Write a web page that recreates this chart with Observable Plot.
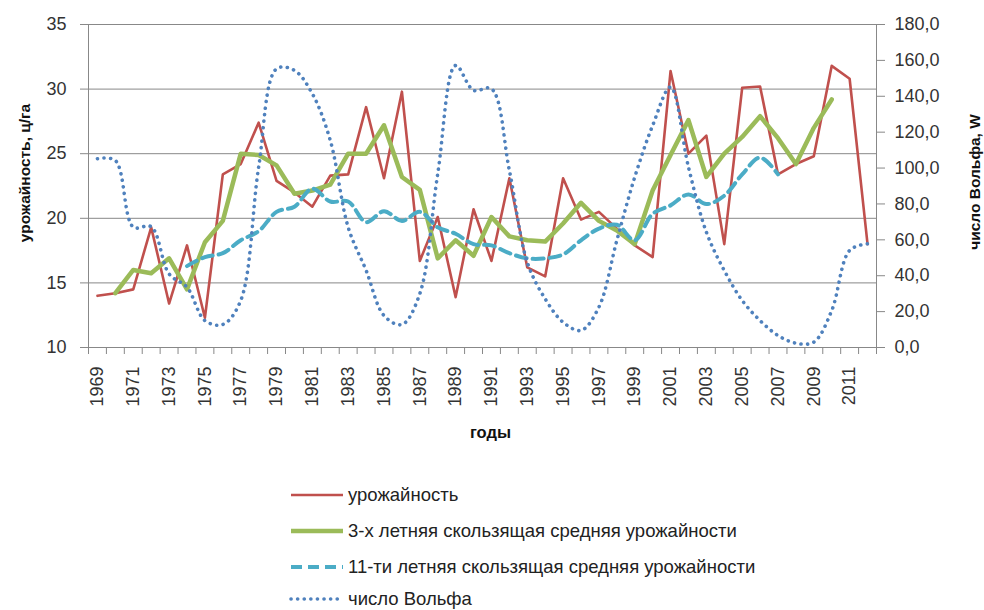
<!DOCTYPE html>
<html><head><meta charset="utf-8">
<script src="https://cdn.jsdelivr.net/npm/d3@7"></script>
<script src="https://cdn.jsdelivr.net/npm/@observablehq/plot@0.6"></script>
<style>
html,body{margin:0;padding:0;background:#fff;}
body{width:984px;height:610px;position:relative;overflow:hidden;font-family:"Liberation Sans",Arial,sans-serif;}
#chart{position:absolute;left:0;top:0;}
#legend{position:absolute;left:289px;top:478px;font-size:18.5px;color:#222;}
.row{position:absolute;left:0;height:22px;white-space:nowrap;display:flex;align-items:center;}
.row svg{margin-right:3px;}
</style></head><body>
<div id="chart"></div>
<div id="legend"></div>
<script>
// ---- data ----
const years = d3.range(1969, 2013);
const yieldValues = [14.0,14.2,14.5,19.3,13.4,17.9,12.3,23.4,24.2,27.4,
  22.9,22.0,20.9,23.3,23.4,28.6,23.1,29.8,16.7,20.1,
  13.9,20.7,16.7,23.1,16.2,15.5,23.1,19.9,20.5,19.2,
  17.9,17.0,31.4,25.0,26.4,18.0,30.1,30.2,23.4,24.2,
  24.8,31.8,30.8,18.0];
const ma3Years = d3.range(1970, 2011);
const ma3Values = [14.2,16.0,15.75,16.9,14.5,18.15,19.8,25.0,24.9,24.1,
  21.9,22.15,22.6,25.0,25.0,27.2,23.2,22.2,16.9,18.3,
  17.1,20.1,18.6,18.3,18.2,19.6,21.2,19.8,19.05,18.0,
  22.15,24.9,27.6,23.2,25.0,26.3,27.9,26.2,24.2,27.0,
  29.2];
const ma11Years = d3.range(1974, 2008);
const ma11Values = [16.3,17.0,17.3,18.3,19.0,20.5,20.9,22.3,21.3,21.3,
  19.7,20.55,19.8,20.5,19.3,18.8,18.0,17.9,17.3,16.9,
  16.9,17.2,18.3,19.2,19.5,18.3,20.35,21.0,21.85,21.1,
  21.75,23.4,24.7,23.4];
const wolfValues = [105.2,104.2,67.1,67.3,41.0,33.6,15.0,12.8,26.2,100.5,
  155.3,154.4,141.4,115.4,67.0,43.0,17.8,12.8,30.0,96.8,
  157.2,143.3,144.2,98.7,47.5,27.1,14.1,9.5,22.5,59.6,
  94.9,123.7,145.1,100.5,64.3,42.9,26.2,15.0,6.7,2.4,
  3.0,20.6,54.1,57.8];
const leftTicks = [10,15,20,25,30,35];
const rightTicks = [0,20,40,60,80,100,120,140,160,180];
const xLabelYears = d3.range(1969, 2012, 2);
const seriesNames = ["урожайность","3-х летняя скользящая средняя урожайности","11-ти летняя скользящая средняя урожайности","число Вольфа"];
const leftTitle = "урожайность, ц/га";
const rightTitle = "число Вольфа, W";
const xTitle = "годы";

// ---- build ----
const yieldData = years.map((y,i)=>({year:y, v:yieldValues[i]}));
const ma3Data = ma3Years.map((y,i)=>({year:y, v:ma3Values[i]}));
const ma11Data = ma11Years.map((y,i)=>({year:y, v:ma11Values[i]}));
const wolfData = years.map((y,i)=>({year:y, w:wolfValues[i]}));
const yMin = 10, yMax = 35, wMax = 180;
const toLeft = w => yMin + w*(yMax-yMin)/wMax;
const fromLeft = v => (v-yMin)*wMax/(yMax-yMin);

const grid = "#888888", txt = "#333333";
const colors = ["#C0504D","#9BBB59","#4BACC6","#4F81BD"];

const chart = Plot.plot({
  width: 984, height: 450,
  marginLeft: 88, marginRight: 108, marginTop: 24, marginBottom: 103,
  style: {fontFamily: '"Liberation Sans", Arial, sans-serif', fontSize: "16px", background: "white", overflow: "visible"},
  x: {type: "linear", domain: [years[0]-0.5, years[years.length-1]+0.5], axis: null},
  y: {domain: [yMin, yMax], axis: null},
  marks: [
    Plot.ruleY(leftTicks.filter(d=>d>yMin), {stroke: grid, strokeWidth: 1}),
    Plot.ruleY([yMin], {stroke: grid, strokeWidth: 1}),
    Plot.ruleX([years[0]-0.5, years[years.length-1]+0.5], {y1: yMin, y2: yMax, stroke: grid}),
    Plot.axisY(leftTicks, {anchor: "left", label: null, tickSize: 8, tickPadding: 14, stroke: grid, fill: txt, fontSize: 18}),
    Plot.axisY(rightTicks.map(toLeft), {anchor: "right", label: null, tickSize: 8, tickPadding: 10, stroke: grid, fill: txt, fontSize: 18,
      tickFormat: d => fromLeft(d).toFixed(1).replace(".", ",")}),
    Plot.axisX(d3.range(years[0]-0.5, years[years.length-1]+1, 1), {anchor: "bottom", label: null, tickSize: 7, stroke: grid, tickFormat: () => ""}),
    Plot.axisX(xLabelYears, {anchor: "bottom", label: null, tickSize: 0, tickRotate: -90, tickPadding: 19, fill: txt, fontSize: 18, tickFormat: d => String(d)}),
    Plot.text([leftTitle], {frameAnchor: "left", textAnchor: "middle", dx: -63, dy: -13, rotate: -90, fontWeight: "bold", fontSize: 15.5, fill: "#111"}),
    Plot.text([rightTitle], {frameAnchor: "right", textAnchor: "middle", dx: 99, dy: -4, rotate: -90, fontWeight: "bold", fontSize: 15.5, fill: "#111"}),
    Plot.text([xTitle], {frameAnchor: "bottom", textAnchor: "middle", dx: 8, dy: 90, fontWeight: "bold", fontSize: 16.5, fill: "#111"}),
    Plot.line(yieldData, {x: "year", y: "v", stroke: colors[0], strokeWidth: 2.6}),
    Plot.line(ma3Data, {x: "year", y: "v", stroke: colors[1], strokeWidth: 4.5}),
    Plot.line(ma11Data, {x: "year", y: "v", stroke: colors[2], strokeWidth: 4, strokeDasharray: "11,6", curve: "catmull-rom"}),
    Plot.line(wolfData, {x: "year", y: d => toLeft(d.w), stroke: colors[3], strokeWidth: 3.6, strokeDasharray: "0.1,6.5", strokeLinecap: "round", curve: "catmull-rom"})
  ]
});
document.getElementById("chart").appendChild(chart);

// ---- legend ----
const styles = [
  {w: 2.6, dash: null, cap: "butt"},
  {w: 4.5, dash: null, cap: "butt"},
  {w: 4, dash: "11,6", cap: "butt"},
  {w: 3.6, dash: "0.1,6.5", cap: "round"}
];
const rowY = [17, 53, 89, 121];
const legend = document.getElementById("legend");
seriesNames.forEach((name, i) => {
  const row = document.createElement("div");
  row.className = "row";
  row.style.top = (rowY[i] - 11) + "px";
  const s = styles[i];
  row.innerHTML = `<svg width="56" height="22"><line x1="2" x2="54" y1="11" y2="11" stroke="${colors[i]}" stroke-width="${s.w}" ${s.dash ? `stroke-dasharray="${s.dash}"` : ""} stroke-linecap="${s.cap}"/></svg><span>${name}</span>`;
  legend.appendChild(row);
});
</script>
</body></html>
